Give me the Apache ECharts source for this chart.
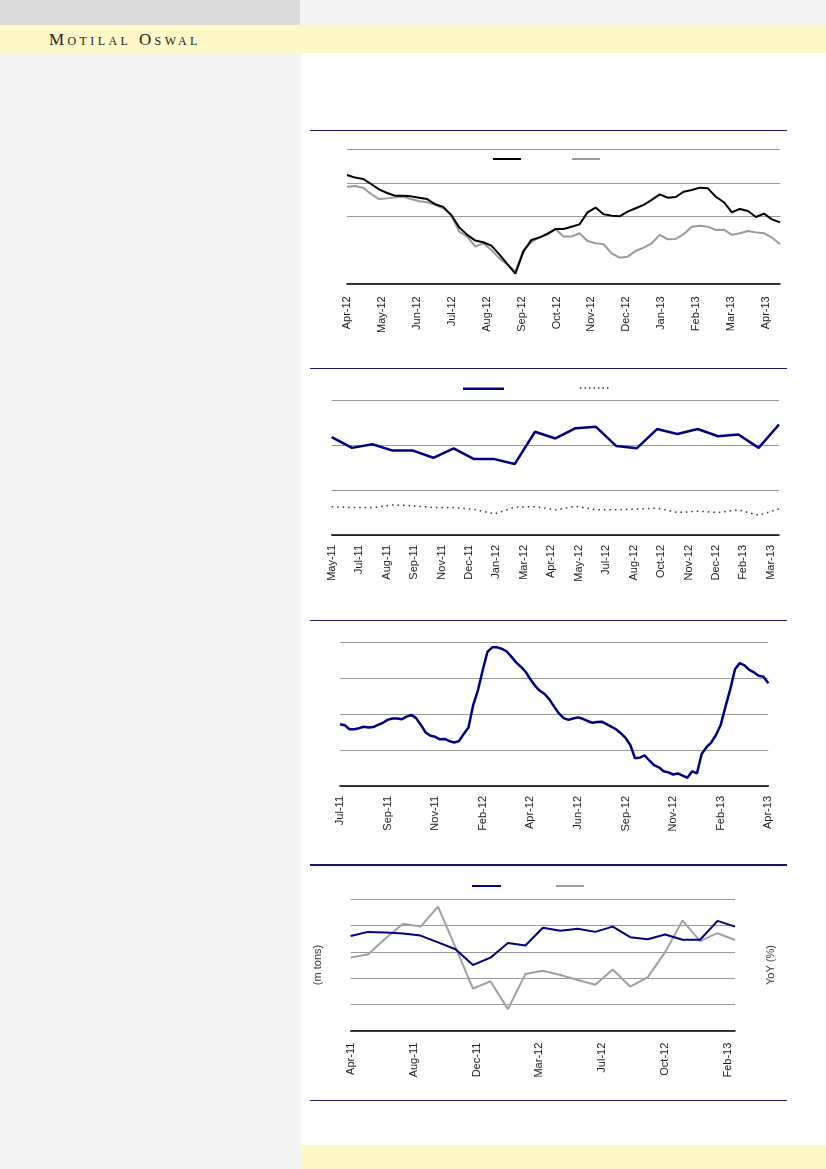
<!DOCTYPE html>
<html><head><meta charset="utf-8">
<script src="https://cdn.jsdelivr.net/npm/echarts@6/dist/echarts.min.js"></script>
<style>
html,body{margin:0;padding:0;width:826px;height:1169px;overflow:hidden;background:#fff;}
.bg{position:absolute;}
.rule{position:absolute;left:310px;width:477px;height:1.4px;background:#16166c;}
#chart{position:absolute;left:0;top:0;width:826px;height:1169px;}
</style></head><body>
<div class="bg" style="left:0;top:0;width:300px;height:25px;background:#dadada"></div>
<div class="bg" style="left:300px;top:0;width:526px;height:25px;background:#f4f4f4"></div>
<div class="bg" style="left:0;top:25px;width:826px;height:28px;background:#fff8c8"></div>
<div class="bg" style="left:0;top:53px;width:301px;height:1116px;background:#f4f4f4"></div>
<div class="bg" style="left:301px;top:1145px;width:525px;height:24px;background:#fff8c8"></div>
<div class="bg" style="left:49px;top:30.8px;font-family:'Liberation Serif',serif;font-variant:small-caps;font-size:17px;line-height:17px;letter-spacing:3.4px;color:#222;white-space:nowrap">Motilal Oswal</div>
<div class="rule" style="top:129.5px"></div>
<div class="rule" style="top:367.6px"></div>
<div class="rule" style="top:619.6px"></div>
<div class="rule" style="top:864.4px"></div>
<div class="rule" style="top:1100px"></div>
<div id="chart"></div>
<script>
// ---------- data ----------
// Chart 1: weekly, Apr-12 .. Apr-13
const c1Labels = ['Apr-12','May-12','Jun-12','Jul-12','Aug-12','Sep-12','Oct-12','Nov-12','Dec-12','Jan-13','Feb-13','Mar-13','Apr-13'];
const c1Black = [124.7,123.1,122.3,119.3,116.1,113.9,112.3,112.3,111.9,111.1,110.3,107.2,105.6,100.8,93.4,88.9,85.5,84.5,82.5,77.3,71.5,65.8,78.9,85.9,87.3,89.7,92.4,92.4,93.8,95.2,102.4,105.2,101.2,100.4,100.0,102.8,104.8,106.8,109.8,113.1,111.1,111.5,114.7,115.7,117.1,116.7,111.7,108.4,102.4,104.4,103.2,99.6,101.6,98.2,96.4];
const c1Gray = [117.7,118.1,117.1,113.3,110.3,110.7,111.3,111.7,110.3,109.0,108.4,106.8,104.8,100.8,90.8,87.9,81.9,83.9,79.9,74.9,71.3,67.0,79.9,84.5,87.5,88.9,92.4,87.9,87.9,89.9,85.3,83.9,83.3,77.9,75.3,75.9,79.3,81.3,83.9,88.9,86.3,86.5,89.3,93.8,94.4,93.8,91.8,92.0,88.9,89.9,91.2,90.4,89.9,87.3,83.3];

// Chart 2: monthly, May-11 .. Mar-13
const c2Months = ['May-11','Jun-11','Jul-11','Aug-11','Sep-11','Oct-11','Nov-11','Dec-11','Jan-12','Feb-12','Mar-12','Apr-12','May-12','Jun-12','Jul-12','Aug-12','Sep-12','Oct-12','Nov-12','Dec-12','Jan-13','Feb-13','Mar-13'];
const c2Labels = ['May-11','Jul-11','Aug-11','Sep-11','Nov-11','Dec-11','Jan-12','Mar-12','Apr-12','May-12','Jul-12','Aug-12','Oct-12','Nov-12','Dec-12','Feb-13','Mar-13'];
const c2Solid = [21.8,19.4,20.2,18.8,18.8,17.2,19.3,16.9,16.9,15.8,23.0,21.5,23.8,24.1,19.8,19.3,23.6,22.5,23.6,22.0,22.4,19.4,24.6];
const c2Dotted = [6.3,6.1,6.1,6.7,6.5,6.1,6.1,5.7,4.7,6.2,6.3,5.6,6.4,5.6,5.6,5.8,6.0,5.0,5.3,5.0,5.6,4.4,5.8];

// Chart 3: weekly, Jul-11 .. Apr-13
const c3Labels = ['Jul-11','Sep-11','Nov-11','Feb-12','Apr-12','Jun-12','Sep-12','Nov-12','Feb-13','Apr-13'];
const c3Values = [17.2,16.9,15.8,15.8,16.1,16.5,16.3,16.4,17.0,17.6,
  18.4,18.8,18.8,18.6,19.3,19.8,18.9,17.0,14.9,14.0,
  13.7,13.0,13.1,12.5,12.1,12.5,14.5,16.3,22.6,26.7,
  32.3,37.4,38.6,38.6,38.2,37.5,36.0,34.4,33.2,31.8,
  29.7,27.9,26.5,25.6,24.1,22.1,20.2,18.9,18.4,18.8,
  19.1,18.7,18.1,17.6,17.8,17.9,17.2,16.5,15.8,14.7,
  13.4,11.4,7.7,7.9,8.5,7.1,5.8,5.2,4.1,3.8,
  3.2,3.5,2.9,2.3,4.1,3.5,8.9,10.8,12.1,14.2,
  17.0,22.1,26.9,32.5,34.2,33.6,32.3,31.6,30.7,30.4,
  28.6];

// Chart 4: monthly, Apr-11 .. Feb-13
const c4Months = ['Apr-11','May-11','Jun-11','Jul-11','Aug-11','Sep-11','Oct-11','Nov-11','Dec-11','Jan-12','Feb-12','Mar-12','Apr-12','May-12','Jun-12','Jul-12','Aug-12','Sep-12','Oct-12','Nov-12','Dec-12','Jan-13','Feb-13'];
const c4Labels = ['Apr-11','Aug-11','Dec-11','Mar-12','Jul-12','Oct-12','Feb-13'];
const c4Tons = [18.0,18.8,18.7,18.5,18.1,16.8,15.5,12.5,13.9,16.7,16.2,19.6,19.0,19.4,18.8,19.8,17.8,17.4,18.3,17.3,17.3,20.9,19.8];
const c4YoY = [7.8,9.1,15.2,20.7,19.6,27.2,11.7,-4.0,-1.2,-11.8,1.6,2.8,1.2,-0.7,-2.5,3.3,-3.2,0.3,9.9,21.9,14.1,17.1,14.5];

// weekly date categories (x positions of the weekly points)
function weeks(start, n) {
  const out = []; const d = new Date(start + 'T00:00:00Z');
  for (let i = 0; i < n; i++) { out.push(d.toISOString().slice(0,10)); d.setUTCDate(d.getUTCDate() + 7); }
  return out;
}
const c1Dates = weeks('2012-04-02', c1Black.length);
const c3Dates = weeks('2011-07-08', c3Values.length);

// ---------- styling helpers ----------
const FONT = 'Liberation Sans';
const GRID_COLOR = '#9a9a9a';
const NAVY = '#000080';

function dataAxis(gi, cats) {
  return { type: 'category', gridIndex: gi, position: 'bottom', data: cats, boundaryGap: false,
    axisLine: { show: true, onZero: false, lineStyle: { color: '#000', width: 1.5 } },
    axisTick: { show: false }, axisLabel: { show: false }, splitLine: { show: false } };
}
function labelAxis(gi, labels, interval, max, margin) {
  return { type: 'value', gridIndex: gi, position: 'bottom', min: 0, max: max, interval: interval,
    axisLine: { show: false }, axisTick: { show: false }, splitLine: { show: false },
    axisLabel: { show: true, rotate: 90, margin: margin, fontSize: 11, color: '#1a1a1a', fontFamily: FONT,
      showMinLabel: true, showMaxLabel: true, hideOverlap: false,
      formatter: function (v) {
        const k = Math.round(v / interval);
        return (Math.abs(v - k * interval) < 1e-6 && k >= 0 && k < labels.length) ? labels[k] : '';
      } } };
}
function valAxis(gi, min, max, interval, splitColors, extra) {
  return Object.assign({ type: 'value', gridIndex: gi, min: min, max: max, interval: interval,
    axisLine: { show: false }, axisTick: { show: false }, axisLabel: { show: false },
    splitLine: { show: true, lineStyle: { color: splitColors, width: 1 } } }, extra || {});
}
function line(name, xi, yi, data, color, width, type, z) {
  return { name: name, type: 'line', xAxisIndex: xi, yAxisIndex: yi, data: data, symbol: 'none',
    color: color, lineStyle: { color: color, width: width, type: type || 'solid' }, z: z || 2,
    emphasis: { disabled: true }, animation: false };
}
function leg(name, left, top, w, h, icon) {
  return { data: [name], left: left, top: top, itemWidth: w, itemHeight: h, padding: 0, icon: icon,
    formatter: function () { return ''; }, selectedMode: false, itemGap: 0,
    textStyle: { fontSize: 1 } };
}

const chart = echarts.init(document.getElementById('chart'), null, { renderer: 'canvas' });
const option = {
  animation: false,
  grid: [
    { left: 347, top: 149.3, width: 433, height: 134, containLabel: false, outerBoundsMode: 'none' },
    { left: 331.7, top: 400.3, width: 447.3, height: 134.7, containLabel: false, outerBoundsMode: 'none' },
    { left: 340, top: 642.3, width: 428.3, height: 143.7, containLabel: false, outerBoundsMode: 'none' },
    { left: 350.7, top: 899.3, width: 384.3, height: 131.4, containLabel: false, outerBoundsMode: 'none' }
  ],
  xAxis: [
    dataAxis(0, c1Dates), labelAxis(0, c1Labels, 1, 12.4, 13),
    dataAxis(1, c2Months), labelAxis(1, c2Labels, 1.35, 22, 10),
    dataAxis(2, c3Dates), labelAxis(2, c3Labels, 1, 9, 10),
    dataAxis(3, c4Months), labelAxis(3, c4Labels, 3.6, 22, 12)
  ],
  yAxis: [
    valAxis(0, 60, 140, 20, [GRID_COLOR, 'rgba(0,0,0,0)', GRID_COLOR, GRID_COLOR, GRID_COLOR]),
    valAxis(1, 0, 30, 10, GRID_COLOR),
    valAxis(2, 0, 40, 10, GRID_COLOR),
    valAxis(3, 0, 25, 5, GRID_COLOR, { name: '(m tons)', nameLocation: 'middle', nameRotate: 90, nameGap: 27,
      nameTextStyle: { fontSize: 11, color: '#333', fontFamily: FONT } }),
    { type: 'value', gridIndex: 3, position: 'right', min: -20, max: 30, interval: 10,
      axisLine: { show: false }, axisTick: { show: false }, axisLabel: { show: false }, splitLine: { show: false },
      name: 'YoY (%)', nameLocation: 'middle', nameRotate: 90, nameGap: 30,
      nameTextStyle: { fontSize: 11, color: '#333', fontFamily: FONT } }
  ],
  legend: [
    leg('Stock', 493, 158, 28, 2, 'rect'),
    leg('Index', 572, 158, 28, 2, 'rect'),
    leg('Margin', 463, 387.5, 41, 2.5, 'rect'),
    leg('Dotted', 575, 387.3, 40, 1.5, 'path://M0,0h2v2h-2z M6,0h2v2h-2z M12,0h2v2h-2z M18,0h2v2h-2z M24,0h2v2h-2z M30,0h2v2h-2z M36,0h2v2h-2z M40,0h0.01v2h-0.01z'),
    leg('Volume', 472, 885, 29, 2, 'rect'),
    leg('YoY', 556, 885, 28, 2, 'rect')
  ],
  series: [
    line('Index', 0, 0, c1Gray, '#9a9a9a', 2, 'solid', 2),
    line('Stock', 0, 0, c1Black, '#000000', 2, 'solid', 3),
    line('Margin', 2, 1, c2Solid, NAVY, 2.5, 'solid', 3),
    line('Dotted', 2, 1, c2Dotted, '#333333', 1.5, [1.5, 4], 2),
    line('Trend', 4, 2, c3Values, NAVY, 2.5, 'solid', 3),
    line('Volume', 6, 3, c4Tons, NAVY, 2, 'solid', 3),
    line('YoY', 6, 4, c4YoY, '#a0a0a0', 2, 'solid', 2)
  ]
};
chart.setOption(option);
</script>
</body></html>
